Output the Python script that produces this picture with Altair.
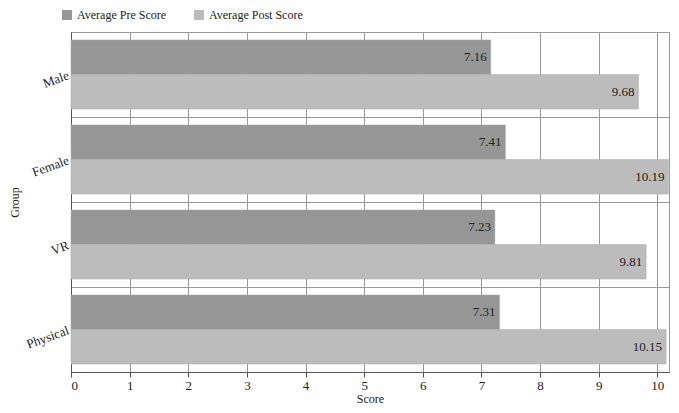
import altair as alt
import pandas as pd

groups = ["Male", "Female", "VR", "Physical"]
pre_scores = [7.16, 7.41, 7.23, 7.31]
post_scores = [9.68, 10.19, 9.81, 10.15]
series = ["Average Pre Score", "Average Post Score"]
colors = ["#969696", "#bcbcbc"]

rows = []
for g, a, b in zip(groups, pre_scores, post_scores):
    rows.append({"Group": g, "Series": series[0], "Score": a, "Label": f"{a:.2f}"})
    rows.append({"Group": g, "Series": series[1], "Score": b, "Label": f"{b:.2f}"})
df = pd.DataFrame(rows)

FONT = "'Liberation Serif', 'Times New Roman', serif"

W, H = 598, 340

y_enc = alt.Y("Group:N", sort=groups, title="Group",
              scale=alt.Scale(paddingInner=0, paddingOuter=0),
              axis=alt.Axis(ticks=False, tickBand="extent", grid=True, gridColor="#999999",
                            labelAngle=340, labelAlign="right", labelBaseline="middle",
                            labelPadding=3, labelFontSize=13, titleFontSize=12,
                            titleX=-50, titleY=H / 2, titleAngle=270,
                            domainColor="#555555"))
yoff = alt.YOffset("Series:N", sort=series,
                   scale=alt.Scale(paddingInner=0, paddingOuter=0.23))
x_enc = alt.X("Score:Q", title="Score",
              scale=alt.Scale(domain=[0, 10.2], nice=False, zero=True),
              axis=alt.Axis(values=list(range(0, 11)), grid=True, gridColor="#999999",
                            tickColor="#555555", domainColor="#555555", tickSize=5,
                            labelFontSize=13, labelPadding=2,
                            titleFontSize=12, titlePadding=1,
                            format="d"))

base = alt.Chart(df).encode(y=y_enc, yOffset=yoff)

bars = base.mark_bar(stroke="#aaaaaa", strokeWidth=0.5).encode(
    x=x_enc,
    color=alt.Color("Series:N", sort=series, title=None,
                    scale=alt.Scale(domain=series, range=colors),
                    legend=alt.Legend(orient="none", legendX=-10, legendY=-23,
                                      direction="horizontal", symbolType="square",
                                      symbolSize=100, symbolStrokeWidth=0,
                                      labelFontSize=12, columnPadding=26,
                                      symbolOpacity=1, labelFont=FONT)),
)

labels = base.mark_text(align="right", baseline="middle", dx=-4, fontSize=13,
                        color="#222222", font=FONT).encode(
    x=alt.X("Score:Q", scale=alt.Scale(domain=[0, 10.2], nice=False)),
    text="Label:N",
)

chart = alt.layer(bars, labels).properties(
    width=W, height=H,
    autosize=alt.AutoSizeParams(type="none"),
    padding={"left": 63, "top": 24, "right": 2, "bottom": 33},
).configure(font=FONT).configure_view(stroke="#999999").configure_axis(
    labelFont=FONT, titleFont=FONT, labelColor="#222222", titleColor="#222222",
    titleFontWeight="normal"
).configure_legend(labelFont=FONT, labelColor="#222222")

chart.save("out.html", embed_options={"renderer": "svg", "actions": False})
